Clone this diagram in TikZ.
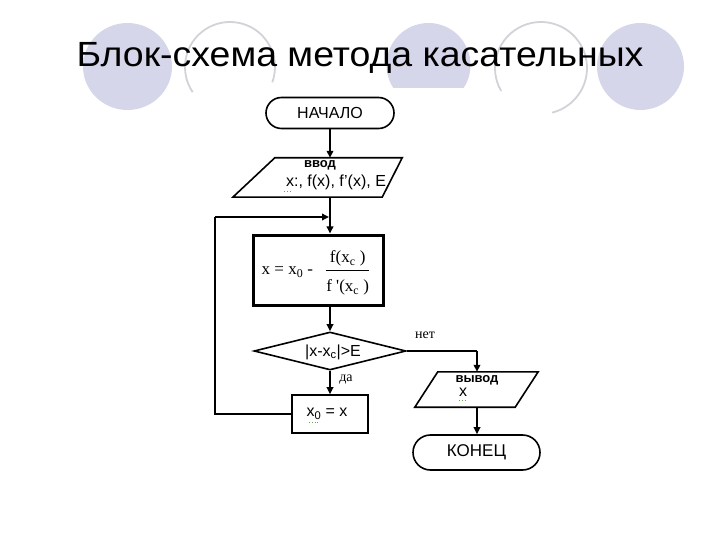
\documentclass[tikz,border=0pt]{standalone}
\usepackage{fontspec}
\setmainfont{Liberation Sans}
\newfontfamily\serif{Liberation Serif}
\newfontfamily\titlefont[FakeStretch=1.07]{Liberation Sans}
\usepackage{amsmath}
\usetikzlibrary{shapes.geometric,shapes.misc,arrows.meta}
\definecolor{lav}{RGB}{214,214,234}
\definecolor{arcgray}{RGB}{210,210,216}
\definecolor{spell}{RGB}{110,160,80}
\begin{document}
\begin{tikzpicture}[x=1pt,y=-1pt,
  shapeline/.style={draw, line width=1.6pt, fill=white, inner sep=0pt},
  term/.style={shapeline, rounded rectangle, minimum width=128pt, minimum height=31pt,
    font=\fontsize{16}{16}\selectfont},
  iobox/.style={rectangle, inner sep=0pt},
  proc/.style={shapeline, rectangle},
  decision/.style={shapeline, diamond, aspect=4, minimum width=152pt, minimum height=38pt},
  conn/.style={line width=1.8pt, -{Triangle[length=7pt,width=6.5pt]}},
  line/.style={line width=1.8pt},
  lbl/.style={font=\serif\fontsize{14}{14}\selectfont, inner sep=0pt},
  txt/.style={inner sep=0pt},
  spellmark/.style={spell, line width=0.8pt, dotted}
]
\useasboundingbox (0,0) rectangle (720,540);

% background decoration
\fill[lav] (127.5,66.5) ellipse [x radius=44.5, y radius=43.5];
\begin{scope}
  \clip (380,0) rectangle (480,88);
  \fill[lav] (428.5,65) circle [radius=42];
\end{scope}
\fill[lav] (640.5,66.5) ellipse [x radius=43.5, y radius=43.5];
\draw[arcgray, line width=1.8pt] (230,67) ++(146:45) arc[start angle=146, end angle=380, radius=45];
\draw[arcgray, line width=1.8pt] (541,68) ++(150:46) arc[start angle=150, end angle=436, radius=46];

% title
\node[txt, anchor=base, font=\titlefont\fontsize{35}{35}\selectfont] (title) at (360,67) {Блок-схема метода касательных};

\coordinate (col) at (330,0);

% flowchart nodes
\node[term] (start) at (330,113) {НАЧАЛО};

\node[iobox, minimum width=169pt, minimum height=39pt] (in) at (317.5,177.5) {};
\draw[shapeline] ([xshift=42pt]in.north west) -- (in.north east)
  -- ([xshift=-20pt]in.south east) -- (in.south west) -- cycle;
\node[txt, font=\bfseries\fontsize{13}{13}\selectfont] (inA) at (320,165) {ввод};
\node[txt, font=\fontsize{16}{16}\selectfont] (inB) at (336,182) {x:, f(x), f'(x), E};
\draw[spellmark] (284,191) -- (291,191);

\node[proc, line width=3pt, minimum width=130pt, minimum height=70pt] (calc) at (318,270) {};
\node[txt, font=\serif\fontsize{17}{17}\selectfont] (formula) at (316,273)
  {x = x\textsubscript{0} -\hspace{12pt}$\dfrac{\text{\serif\fontsize{17}{17}\selectfont f(x\textsubscript{c} )}}{\text{\rule{0pt}{19pt}\serif\fontsize{17}{17}\selectfont f '(x\textsubscript{c} )}}$};

\node[decision] (dec) at (330,351) {};
\node[txt, font=\fontsize{16}{16}\selectfont] (decT) at (333,352) {|x-x\textsubscript{c}|>E};

\node[proc, minimum width=76pt, minimum height=38pt] (upd) at (330,414) {};
\node[txt, font=\fontsize{16}{16}\selectfont] (updT) at (327,414) {x\textsubscript{0} = x};
\draw[spellmark] (309,422) -- (320,422);

\node[iobox, minimum width=123pt, minimum height=35pt] (out) at (476.5,389.5) {};
\draw[shapeline] ([xshift=23pt]out.north west) -- (out.north east)
  -- ([xshift=-23pt]out.south east) -- (out.south west) -- cycle;
\node[txt, font=\bfseries\fontsize{13}{13}\selectfont] (outA) at (477,380) {вывод};
\node[txt, font=\fontsize{16}{16}\selectfont] (outB) at (463,392) {x};
\draw[spellmark] (459,400) -- (467,400);

\node[term, minimum width=127pt, minimum height=35pt, font=\fontsize{17}{17}\selectfont] (end) at (476.5,452.5) {КОНЕЦ};

\node[lbl] (net) at (425,335) {нет};
\node[lbl] (da) at (346,380) {да};

% connectors
\coordinate (join) at (330,217);
\coordinate (loopc) at (215,217);
\coordinate (netc) at (477,351);
\draw[conn] (start.south) -- (in.north -| col);
\draw[conn] (in.south -| col) -- (calc.north -| col);
\draw[conn] (calc.south -| col) -- (dec.north);
\draw[conn] (dec.south) -- (upd.north);
\draw[line] (upd.west) -| (loopc);
\draw[conn, shorten >=1pt] (loopc) -- (join);
\draw[line] (dec.east) -- (netc);
\draw[conn] (netc) -- (out.north -| netc);
\draw[conn] (out.south -| netc) -- (end.north -| netc);
\end{tikzpicture}
\end{document}
